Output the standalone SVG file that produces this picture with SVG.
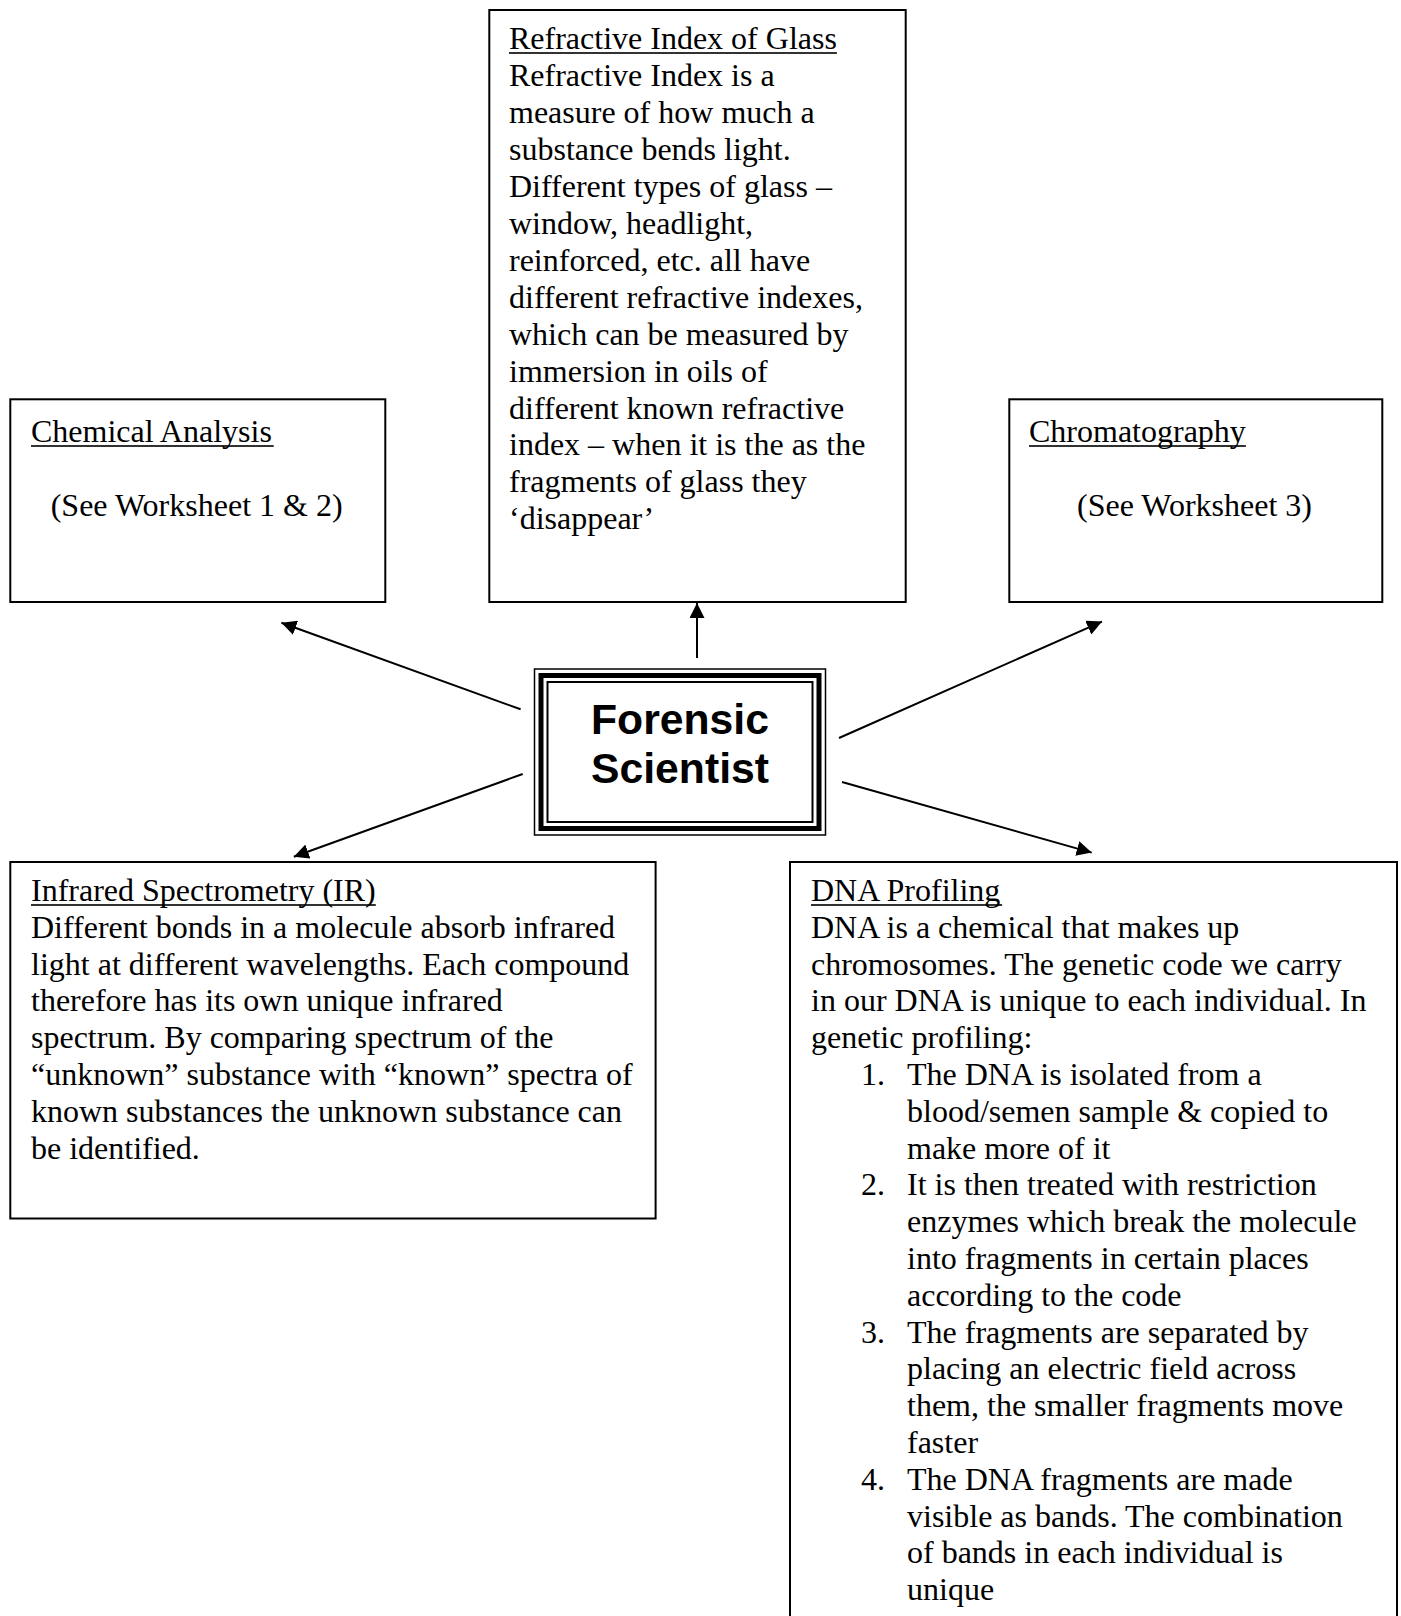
<svg xmlns="http://www.w3.org/2000/svg" width="1401" height="1616" viewBox="0 0 1401 1616">
<style>
.box{fill:#fff;stroke:#000;stroke-width:2}
.t{font-family:"Liberation Serif","Times New Roman",serif;font-size:32px;fill:#000}
.ul{fill:#000}
.c{stroke:#000;stroke-width:2;fill:none}
.ft{font-family:"Liberation Sans",Arial,sans-serif;font-size:42.7px;font-weight:bold;fill:#000}
</style>
<defs>
<marker id="ah" markerUnits="userSpaceOnUse" markerWidth="15" markerHeight="15" viewBox="0 0 15 15" refX="15" refY="7.5" orient="auto">
<path d="M0,0 L15,7.5 L0,15 z" fill="#000"/>
</marker>
</defs>
<rect width="1401" height="1616" fill="#fff"/>

<g id="connectors">
<line class="c" x1="520.6" y1="709.3" x2="281.4" y2="622.7" marker-end="url(#ah)"/>
<line class="c" x1="697" y1="658" x2="697" y2="603" marker-end="url(#ah)"/>
<line class="c" x1="839" y1="738" x2="1102" y2="621.6" marker-end="url(#ah)"/>
<line class="c" x1="522.7" y1="774" x2="293.8" y2="856.7" marker-end="url(#ah)"/>
<line class="c" x1="842" y1="782" x2="1091.7" y2="852.6" marker-end="url(#ah)"/>
</g>

<g id="refractive">
<rect class="box" x="489.3" y="10" width="416.4" height="592"/>
<rect class="ul" x="509" y="52.2" width="327.9" height="1.6"/>
<text class="t">
<tspan x="509" y="49">Refractive Index of Glass</tspan>
<tspan x="509" y="85.95">Refractive Index is a</tspan>
<tspan x="509" y="122.9">measure of how much a</tspan>
<tspan x="509" y="159.85">substance bends light.</tspan>
<tspan x="509" y="196.8">Different types of glass –</tspan>
<tspan x="509" y="233.75">window, headlight,</tspan>
<tspan x="509" y="270.7">reinforced, etc. all have</tspan>
<tspan x="509" y="307.65">different refractive indexes,</tspan>
<tspan x="509" y="344.6">which can be measured by</tspan>
<tspan x="509" y="381.55">immersion in oils of</tspan>
<tspan x="509" y="418.5">different known refractive</tspan>
<tspan x="509" y="455.45">index – when it is the as the</tspan>
<tspan x="509" y="492.4">fragments of glass they</tspan>
<tspan x="509" y="529.35">‘disappear’</tspan>
</text>
</g>

<g id="chemical">
<rect class="box" x="10.3" y="399.3" width="375" height="202.7"/>
<rect class="ul" x="31" y="445.2" width="242.7" height="1.6"/>
<text class="t"><tspan x="31" y="442">Chemical Analysis</tspan><tspan x="50.7" y="516">(See Worksheet 1 &amp; 2)</tspan></text>
</g>

<g id="chromatography">
<rect class="box" x="1009.3" y="399.3" width="373" height="202.7"/>
<rect class="ul" x="1029" y="445.2" width="216.9" height="1.6"/>
<text class="t"><tspan x="1029" y="442">Chromatography</tspan><tspan x="1077" y="516">(See Worksheet 3)</tspan></text>
</g>

<g id="forensic">
<rect x="534.5" y="669" width="291" height="166" fill="#fff" stroke="#000" stroke-width="1.5"/>
<rect x="541" y="675.5" width="278" height="153" fill="none" stroke="#000" stroke-width="5"/>
<rect x="547.5" y="682" width="265" height="140" fill="none" stroke="#000" stroke-width="2"/>
<text class="ft" text-anchor="middle"><tspan x="680" y="734">Forensic</tspan><tspan x="680" y="783">Scientist</tspan></text>
</g>

<g id="infrared">
<rect class="box" x="10.3" y="862" width="645.3" height="356.5"/>
<rect class="ul" x="31" y="904.2" width="344.8" height="1.6"/>
<text class="t">
<tspan x="31" y="901">Infrared Spectrometry (IR)</tspan>
<tspan x="31" y="937.8">Different bonds in a molecule absorb infrared</tspan>
<tspan x="31" y="974.6">light at different wavelengths. Each compound</tspan>
<tspan x="31" y="1011.4">therefore has its own unique infrared</tspan>
<tspan x="31" y="1048.2">spectrum. By comparing spectrum of the</tspan>
<tspan x="31" y="1085">“unknown” substance with “known” spectra of</tspan>
<tspan x="31" y="1121.8">known substances the unknown substance can</tspan>
<tspan x="31" y="1158.6">be identified.</tspan>
</text>
</g>

<g id="dna">
<rect class="box" x="790" y="862" width="607" height="770"/>
<rect class="ul" x="811" y="904.2" width="191.1" height="1.6"/>
<text class="t">
<tspan x="811" y="901">DNA Profiling</tspan>
<tspan x="811" y="937.8">DNA is a chemical that makes up</tspan>
<tspan x="811" y="974.6">chromosomes. The genetic code we carry</tspan>
<tspan x="811" y="1011.4">in our DNA is unique to each individual. In</tspan>
<tspan x="811" y="1048.2">genetic profiling:</tspan>
<tspan x="861" y="1085">1.</tspan><tspan x="907" y="1085">The DNA is isolated from a</tspan>
<tspan x="907" y="1121.8">blood/semen sample &amp; copied to</tspan>
<tspan x="907" y="1158.6">make more of it</tspan>
<tspan x="861" y="1195.4">2.</tspan><tspan x="907" y="1195.4">It is then treated with restriction</tspan>
<tspan x="907" y="1232.2">enzymes which break the molecule</tspan>
<tspan x="907" y="1269">into fragments in certain places</tspan>
<tspan x="907" y="1305.8">according to the code</tspan>
<tspan x="861" y="1342.6">3.</tspan><tspan x="907" y="1342.6">The fragments are separated by</tspan>
<tspan x="907" y="1379.4">placing an electric field across</tspan>
<tspan x="907" y="1416.2">them, the smaller fragments move</tspan>
<tspan x="907" y="1453">faster</tspan>
<tspan x="861" y="1489.8">4.</tspan><tspan x="907" y="1489.8">The DNA fragments are made</tspan>
<tspan x="907" y="1526.6">visible as bands. The combination</tspan>
<tspan x="907" y="1563.4">of bands in each individual is</tspan>
<tspan x="907" y="1600.2">unique</tspan>
</text>
</g>
</svg>
